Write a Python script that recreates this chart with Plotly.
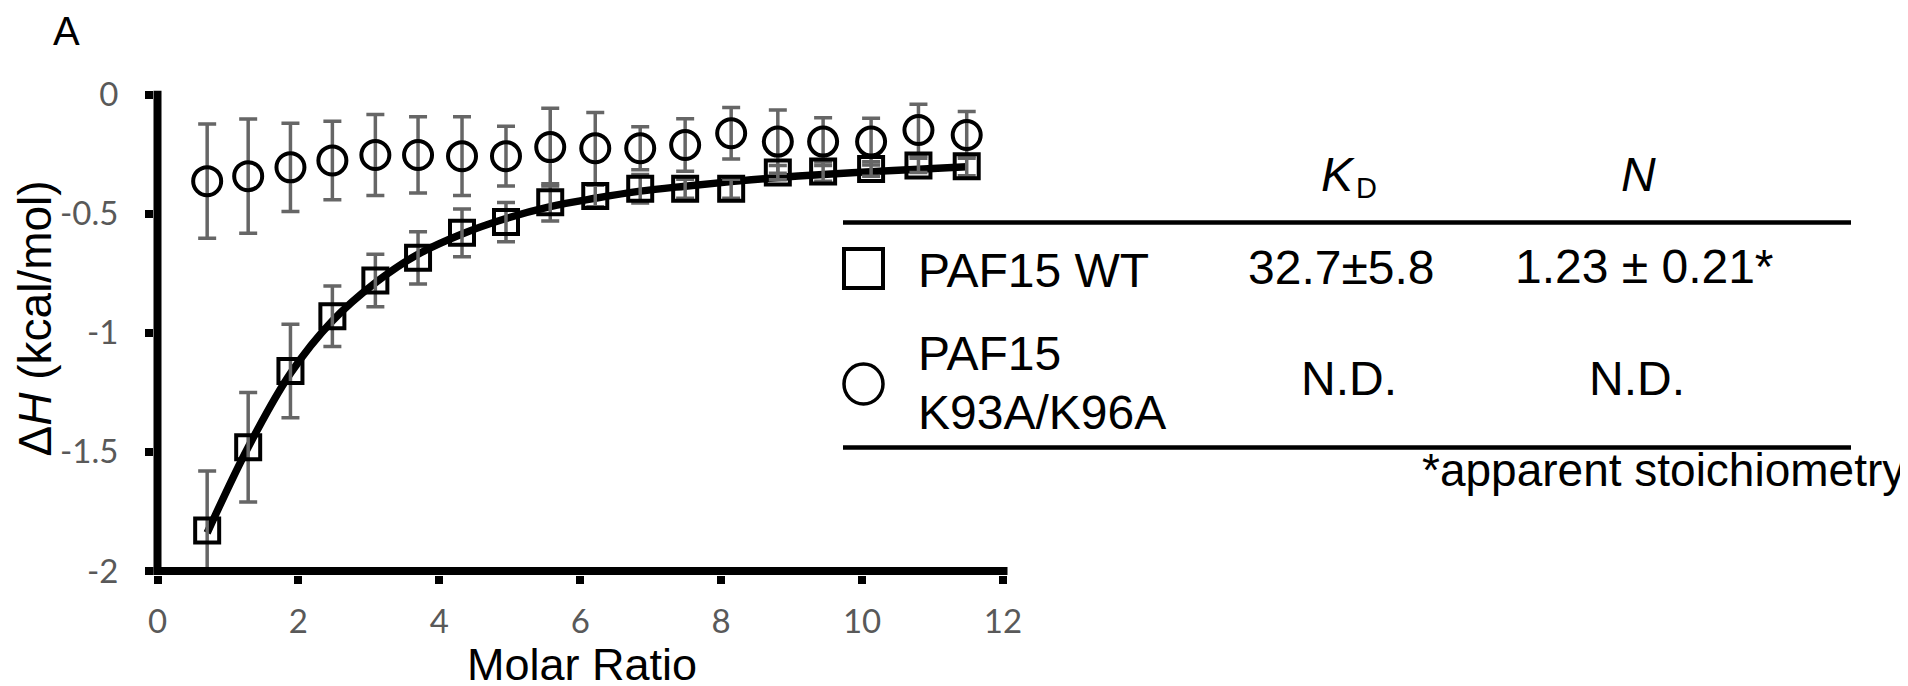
import plotly.graph_objects as go

# ---------------- data ----------------
molar_ratio = [0.705, 1.287, 1.887, 2.482, 3.092, 3.698, 4.322, 4.946, 5.574,
               6.213, 6.851, 7.489, 8.142, 8.804, 9.447, 10.128, 10.80, 11.485]

wt_dh = [-1.83, -1.48, -1.16, -0.93, -0.78, -0.685, -0.58, -0.535, -0.452,
         -0.425, -0.395, -0.395, -0.395, -0.327, -0.323, -0.312, -0.297, -0.30]
wt_err = [0.25, 0.23, 0.196, 0.127, 0.11, 0.11, 0.10, 0.082, 0.078,
          0.045, 0.06, 0.04, 0.04, 0.03, 0.04, 0.03, 0.03, 0.04]

mut_dh = [-0.363, -0.342, -0.305, -0.276, -0.253, -0.253, -0.258, -0.258, -0.220,
          -0.225, -0.225, -0.211, -0.162, -0.197, -0.197, -0.197, -0.148, -0.169]
mut_err = [0.24, 0.24, 0.185, 0.165, 0.17, 0.16, 0.165, 0.125, 0.163,
           0.15, 0.09, 0.11, 0.108, 0.133, 0.10, 0.098, 0.108, 0.098]

fit_dh = [-1.84, -1.48, -1.17, -0.95, -0.79, -0.67, -0.585, -0.52, -0.47,
          -0.435, -0.405, -0.384, -0.365, -0.348, -0.335, -0.323, -0.313, -0.303]

y_tickvals = [0, -0.5, -1, -1.5, -2]
y_ticktext = ["0", "-0.5", "-1", "-1.5", "-2"]
x_tickvals = [0, 2, 4, 6, 8, 10, 12]
x_ticktext = ["0", "2", "4", "6", "8", "10", "12"]

table_header = ["<i>K</i>", "<i>N</i>"]
table_rows = [
    ["PAF15 WT", "32.7±5.8", "1.23 ± 0.21*"],
    ["PAF15", "N.D.", "N.D."],
]
footnote = "*apparent stoichiometry"

# ---------------- geometry helpers ----------------
W, H = 1908, 686
OFF = 8  # page body margin: screen px = figure px + 8


def X(px):
    return (px - OFF) / W


def Y(py):
    return 1 - (py - OFF) / H


ARIAL = "Liberation Sans, Arial, sans-serif"
TICKFONT = dict(family="Lato, Open Sans, sans-serif", size=33, color="#595959")
GRAY = "#666666"

fig = go.Figure()

# fit curve
fig.add_trace(go.Scatter(
    x=molar_ratio, y=fit_dh, mode="lines",
    line=dict(color="black", width=7.5, shape="spline"),
    hoverinfo="skip", showlegend=False))

# mutant (circles)
fig.add_trace(go.Scatter(
    x=molar_ratio, y=mut_dh, mode="markers",
    marker=dict(symbol="circle-open", size=28, color="black",
                line=dict(width=4, color="black")),
    error_y=dict(type="data", array=mut_err, visible=True,
                 color=GRAY, thickness=3.5, width=9),
    showlegend=False))

# WT (squares)
fig.add_trace(go.Scatter(
    x=molar_ratio, y=wt_dh, mode="markers",
    marker=dict(symbol="square-open", size=24, color="black",
                line=dict(width=4, color="black")),
    error_y=dict(type="data", array=wt_err, visible=True,
                 color=GRAY, thickness=3.5, width=9),
    showlegend=False))

# axis geometry (screen px): x=0 -> 157.5, x=12 -> 1003 ; y=0 -> 94.7, y=-2 -> 571
px_per_x = (1003 - 157.5) / 12
px_per_y = (571 - 94.7) / 2
plot_left, plot_right = 153.5, 1007.5
plot_top, plot_bottom = 90.7, 575
x0 = -(157.5 - plot_left) / px_per_x
x1 = 12 + (plot_right - 1003) / px_per_x
y0 = -2 - (plot_bottom - 571) / px_per_y
y1 = (94.7 - plot_top) / px_per_y

fig.update_layout(
    width=W, height=H,
    margin=dict(l=0, r=0, t=0, b=0, pad=0, autoexpand=False),
    paper_bgcolor="white", plot_bgcolor="white",
    xaxis=dict(domain=[X(plot_left), X(plot_right)], range=[x0, x1],
               automargin=False,
               showgrid=False, zeroline=False, showline=False,
               tickmode="array", tickvals=x_tickvals, ticktext=x_ticktext,
               ticks="outside", ticklen=7.5, tickwidth=8, tickcolor="black",
               tickfont=TICKFONT, ticklabelstandoff=10),
    yaxis=dict(domain=[Y(plot_bottom), Y(plot_top)], range=[y0, y1],
               automargin=False,
               showgrid=False, zeroline=False, showline=False,
               tickmode="array", tickvals=y_tickvals, ticktext=y_ticktext,
               ticks="outside", ticklen=7.5, tickwidth=8, tickcolor="black",
               tickfont=TICKFONT, ticklabelstandoff=20),
    showlegend=False,
)

shapes = []
# axis lines
shapes.append(dict(type="line", xref="paper", yref="paper",
                   x0=X(153.5), x1=X(1007.5), y0=Y(571), y1=Y(571),
                   line=dict(color="black", width=8)))
shapes.append(dict(type="line", xref="paper", yref="paper",
                   x0=X(157.5), x1=X(157.5), y0=Y(575), y1=Y(90.7),
                   line=dict(color="black", width=8)))
# table rules
for ly in (222.5, 447.5):
    shapes.append(dict(type="line", xref="paper", yref="paper",
                       x0=X(843), x1=X(1851), y0=Y(ly), y1=Y(ly),
                       line=dict(color="black", width=4.5)))
# legend symbols in table
shapes.append(dict(type="rect", xref="paper", yref="paper",
                   x0=X(844), x1=X(883), y0=Y(288), y1=Y(249),
                   line=dict(color="black", width=4)))
shapes.append(dict(type="circle", xref="paper", yref="paper",
                   x0=X(844), x1=X(883), y0=Y(404), y1=Y(364),
                   line=dict(color="black", width=3.5)))
fig.update_layout(shapes=shapes)


def ann(text, px, py, size, xanchor="center", yanchor="middle", angle=0,
        color="black", family=ARIAL, xpaper=None, ypaper=None):
    fig.add_annotation(text=text,
                       x=X(px) if xpaper is None else xpaper,
                       y=Y(py) if ypaper is None else ypaper,
                       xref="paper", yref="paper",
                       xanchor=xanchor, yanchor=yanchor, showarrow=False,
                       textangle=angle, borderpad=0,
                       font=dict(family=family, size=size, color=color))


TF = 48
ann("A", 66, 0, 40, yanchor="top", ypaper=1.0)
ann("Δ<i>H</i> (kcal/mol)", 0, 318.5, 46, angle=-90, xanchor="left", xpaper=0.0)
ann("Molar Ratio", 582, 664, 45)

# table
ann(table_header[0], 1337.5, 174.5, TF)
ann("D", 1355, 188, 29, xanchor="left")
ann(table_header[1], 1638.5, 174.5, TF)
ann(table_rows[0][0], 917, 270, TF, xanchor="left")
ann(table_rows[0][1], 1341.5, 267.5, TF)
ann(table_rows[0][2], 1644.5, 266.5, TF)
ann(table_rows[1][0], 917, 353, TF, xanchor="left")
ann("K93A/K96A", 917, 412.5, TF, xanchor="left")
ann(table_rows[1][1], 1349, 378, TF)
ann(table_rows[1][2], 1637, 378, TF)
ann(footnote, 1906, 470, 46, xanchor="right")

fig.write_html("out.html")
